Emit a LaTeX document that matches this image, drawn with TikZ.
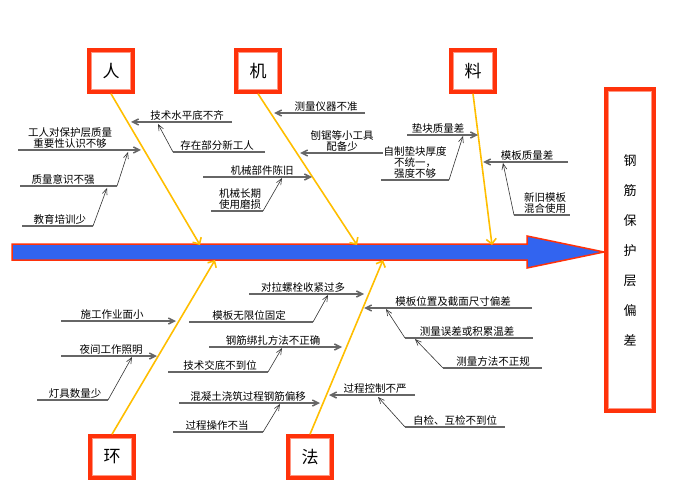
\documentclass[tikz,border=0pt]{standalone}
\usepackage{fontspec}
\setmainfont{Noto Sans CJK SC}
\usetikzlibrary{arrows.meta}
\definecolor{bonec}{RGB}{255,190,0}
\definecolor{boxr}{RGB}{255,50,10}
\definecolor{boxin}{RGB}{255,150,130}
\definecolor{spinec}{RGB}{50,100,240}
\begin{document}
\begin{tikzpicture}[x=1pt,y=-1pt,
 cat/.style={draw=boxr,line width=3.5pt,fill=white,minimum width=44pt,minimum height=42pt,font=\fontsize{17}{17}\selectfont},
 bone/.style={draw=bonec,line width=1.6pt,-{Straight Barb[length=5pt]}},
 hl/.style={draw=gray!80!black,line width=1.5pt},
 hla/.style={hl,-{Straight Barb[length=6pt,width=6pt]},},
 sa/.style={draw=black!80,line width=0.6pt,-{Straight Barb[length=6pt,width=5pt]}},
 inner/.style={draw=boxin,line width=0.8pt},
 lb/.style={font=\fontsize{10.5}{11}\selectfont,inner sep=1pt,align=center,anchor=south}]
\useasboundingbox (0,0) rectangle (686,500);
% spine
\draw[draw=boxr,line width=1.5pt,fill=spinec]
 (12,244) -- (527,244) -- (527,236) -- (604,252) -- (527,268) -- (527,260) -- (12,260) -- cycle;
% category boxes
\node[cat] (ren) at (111,71) {人};
\node[cat] (ji) at (258,71) {机};
\node[cat] (liao) at (473,71) {料};
\node[cat] (huan) at (112,457) {环};
\node[cat] (fa) at (310,457) {法};
\node[draw=boxr,line width=3.5pt,fill=white,minimum width=48pt,minimum height=322pt,font=\fontsize{13}{30}\selectfont,align=center] (res) at (630,250) {钢\\筋\\保\\护\\层\\偏\\差};
\foreach \n in {ren,ji,liao,huan,fa,res}
  \draw[inner] ([shift={(4.5,4.5)}]\n.north west) rectangle ([shift={(-4.5,-4.5)}]\n.south east);
% bones
\draw[bone] (ren.south) -- (200,245);
\draw[bone] (ji.south) -- (357,245);
\draw[bone] (liao.south) -- (492,245);
\draw[bone] (huan.north) -- (215,260);
\draw[bone] (fa.north) -- (383,260);
% --- 人
\draw[hla] (232,122) -- (131,122); \node[lb] at (187,122) {技术水平底不齐};
\draw[hl] (265,152) -- (173,152) coordinate (a1); \node[lb] at (217,152) {存在部分新工人};
\draw[sa] (a1) -- (158,124);
\draw[hla] (18,150) -- (141,150); \node[lb] at (70,150) {工人对保护层质量\\重要性认识不够};
\draw[hl] (20,186) -- (117,186) coordinate (a2); \node[lb] at (63,186) {质量意识不强};
\draw[sa] (a2) -- (128,152);
\draw[hl] (22,226) -- (93,226) coordinate (a3); \node[lb] at (60,226) {教育培训少};
\draw[sa] (a3) -- (107,188);
% --- 机
\draw[hla] (365,113) -- (274,113); \node[lb] at (326,113) {测量仪器不准};
\draw[hla] (383,153) -- (300,153); \node[lb] at (342,153) {刨锯等小工具\\配备少};
\draw[hla] (203,177) -- (312,177); \node[lb] at (262,177) {机械部件陈旧};
\draw[hl] (211,211) -- (263,211) coordinate (b1); \node[lb] at (240,211) {机械长期\\使用磨损};
\draw[sa] (b1) -- (282,178);
% --- 料
\draw[hla] (407,135) -- (478,135); \node[lb] at (438,135) {垫块质量差};
\draw[hl] (381,180) -- (449,180) coordinate (c1); \node[lb] at (415,180) {自制垫块厚度\\不统一，\\强度不够};
\draw[sa] (c1) -- (463,136);
\draw[hla] (568,162) -- (483,162); \node[lb] at (527,162) {模板质量差};
\draw[hl] (514,215) -- (570,215); \coordinate (c2) at (514,215); \node[lb] at (545,215) {新旧模板\\混合使用};
\draw[sa] (c2) -- (503,163);
% --- 环
\draw[hla] (61,321) -- (176,321); \node[lb] at (112,321) {施工作业面小};
\draw[hla] (61,356) -- (157,356); \node[lb] at (111,356) {夜间工作照明};
\draw[hl] (37,400) -- (108,400) coordinate (d1); \node[lb] at (75,400) {灯具数量少};
\draw[sa] (d1) -- (132,357);
% --- 法
\draw[hla] (249,294) -- (364,294); \node[lb] at (303,294) {对拉螺栓收紧过多};
\draw[hl] (189,322) -- (313,322) coordinate (e1); \node[lb] at (249,322) {模板无限位固定};
\draw[sa] (e1) -- (328,295);
\draw[hla] (209,347) -- (342,347); \node[lb] at (273,347) {钢筋绑扎方法不正确};
\draw[hl] (168,372) -- (268,372) coordinate (e2); \node[lb] at (220,372) {技术交底不到位};
\draw[sa] (e2) -- (282,348);
\draw[hla] (179,403) -- (320,403); \node[lb] at (248,403) {混凝土浇筑过程钢筋偏移};
\draw[hl] (173,432) -- (263,432) coordinate (e3); \node[lb] at (217,432) {过程操作不当};
\draw[sa] (e3) -- (280,404);
\draw[hla] (532,308) -- (364,308); \node[lb] at (453,308) {模板位置及截面尺寸偏差};
\draw[hl] (405,338) -- (533,338); \coordinate (e4) at (405,338); \node[lb] at (467,338) {测量误差或积累温差};
\draw[sa] (e4) -- (386,309);
\draw[hl] (443,368) -- (542,368); \coordinate (e5) at (443,368); \node[lb] at (493,368) {测量方法不正规};
\draw[sa] (e5) -- (415,339);
\draw[hla] (415,395) -- (329,395); \node[lb] at (375,395) {过程控制不严};
\draw[hl] (405,427) -- (505,427); \coordinate (e6) at (405,427); \node[lb] at (455,427) {自检、互检不到位};
\draw[sa] (e6) -- (378,397);
\end{tikzpicture}
\end{document}
